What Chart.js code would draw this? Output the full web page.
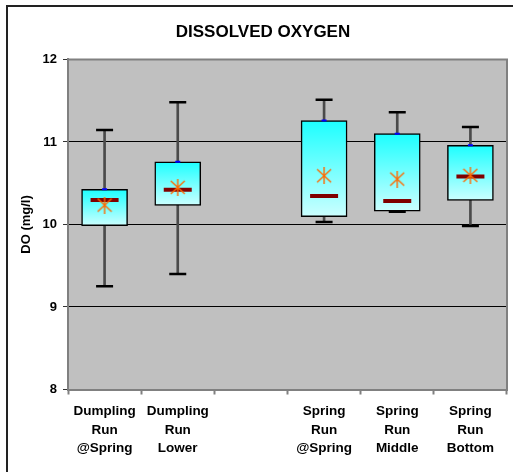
<!DOCTYPE html>
<html>
<head>
<meta charset="utf-8">
<script src="https://cdn.jsdelivr.net/npm/chart.js@4/dist/chart.umd.min.js"></script>
<style>
  html, body { margin: 0; padding: 0; background: #ffffff; }
  canvas { display: block; }
</style>
</head>
<body>
<canvas id="c" width="513" height="472"></canvas>
<script>
// ---- Data ----
const categories = [
  ["Dumpling", "Run", "@Spring"],
  ["Dumpling", "Run", "Lower"],
  "",
  ["Spring", "Run", "@Spring"],
  ["Spring", "Run", "Middle"],
  ["Spring", "Run", "Bottom"]
];
const minVals    = [9.25,  9.40,  null, 10.03,  10.155, 9.98];
const q1Vals     = [9.985, 10.23, null, 10.095, 10.16,  10.29];
const medianVals = [10.295, 10.42, null, 10.345, 10.285, 10.58];
const q3Vals     = [10.426, 10.76, null, 11.26,  11.10,  10.96];
const maxVals    = [11.146, 11.48, null, 11.51,  11.36,  11.18];
const meanVals   = [10.235, 10.45, null, 10.59,  10.55,  10.595];
const yTicks     = [8, 9, 10, 11, 12];

const FONT = "Arial, 'Liberation Sans', Helvetica, sans-serif";

// asterisk marker for the mean
const star = document.createElement('canvas');
star.width = 16; star.height = 17;
(function () {
  const g = star.getContext('2d');
  g.strokeStyle = '#FF6A00';
  g.lineWidth = 1.4;
  g.beginPath();
  g.moveTo(1, 2); g.lineTo(15, 15);
  g.moveTo(15, 2); g.lineTo(1, 15);
  g.moveTo(8, 0); g.lineTo(8, 17);
  g.stroke();
})();

const bgPlugin = {
  id: 'bg',
  beforeDraw(chart) {
    const { ctx, chartArea: a } = chart;
    ctx.save();
    ctx.fillStyle = '#C0C0C0';
    ctx.fillRect(a.left, a.top, a.right - a.left, a.bottom - a.top);
    ctx.strokeStyle = '#222';
    ctx.lineWidth = 2;
    ctx.strokeRect(7, 6, 620, 620);
    ctx.restore();
  },
  afterDatasetsDraw(chart) {
    const { ctx, chartArea: a } = chart;
    ctx.save();
    ctx.strokeStyle = '#808080';
    ctx.lineWidth = 2;
    ctx.beginPath();
    ctx.moveTo(a.left, a.top);
    ctx.lineTo(a.right, a.top);
    ctx.lineTo(a.right, a.bottom);
    ctx.stroke();
    ctx.restore();
  }
};

function boxGradient(c) {
  const chart = c.chart;
  if (!chart.chartArea || c.dataIndex == null) return '#80ffff';
  const i = c.dataIndex;
  if (q3Vals[i] == null) return 'rgba(0,0,0,0)';
  const y = chart.scales.y;
  const top = y.getPixelForValue(q3Vals[i]);
  const bot = y.getPixelForValue(q1Vals[i]);
  const g = chart.ctx.createLinearGradient(0, top, 0, bot);
  g.addColorStop(0, '#1CFFFF');
  g.addColorStop(1, '#CCFFFF');
  return g;
}

const pairs = (a, b) => a.map((v, i) => (v == null ? null : [v, b[i]]));

new Chart(document.getElementById('c'), {
  type: 'bar',
  data: {
    labels: categories,
    datasets: [
      {
        type: 'line', label: 'mean', data: meanVals, showLine: false,
        pointStyle: star, pointRadius: 8, order: 0
      },
      {
        type: 'line', label: 'median', data: medianVals, showLine: false,
        pointStyle: 'line', pointRadius: 14, borderWidth: 4,
        borderColor: '#800000', backgroundColor: '#800000', order: 1
      },
      {
        type: 'line', label: 'q3mark', data: q3Vals, showLine: false,
        pointStyle: 'line', pointRadius: 2.5, borderWidth: 2,
        borderColor: '#0000FF', order: 2
      },
      {
        type: 'line', label: 'max', data: maxVals, showLine: false,
        pointStyle: 'line', pointRadius: 8.5, borderWidth: 2.5,
        borderColor: '#000', order: 3
      },
      {
        type: 'line', label: 'min', data: minVals, showLine: false,
        pointStyle: 'line', pointRadius: 8.5, borderWidth: 2.5,
        borderColor: '#000', order: 3
      },
      {
        label: 'box', data: pairs(q1Vals, q3Vals), grouped: false,
        barThickness: 46, backgroundColor: boxGradient,
        borderColor: '#000', borderWidth: 1.5, borderSkipped: false, order: 4
      },
      {
        label: 'whisker', data: pairs(minVals, maxVals), grouped: false,
        barThickness: 2, backgroundColor: '#4a4a4a', borderWidth: 0, order: 5
      }
    ]
  },
  options: {
    responsive: false,
    animation: false,
    devicePixelRatio: 1,
    events: [],
    layout: { autoPadding: false, padding: { left: 19, right: 6, top: 22, bottom: 6 } },
    plugins: {
      legend: { display: false },
      tooltip: { enabled: false },
      title: {
        display: true, text: 'DISSOLVED OXYGEN', color: '#000',
        font: { family: FONT, size: 17, weight: 'bold', lineHeight: 1.2 },
        padding: { top: 0, bottom: 17 }
      }
    },
    scales: {
      x: {
        offset: true,
        afterFit(s) { s.paddingLeft = 0; s.paddingRight = 0; },
        grid: {
          offset: true, drawOnChartArea: false, drawTicks: true,
          tickLength: 5, tickColor: '#808080', tickWidth: 2
        },
        border: { color: '#808080', width: 2 },
        ticks: {
          color: '#000', autoSkip: false, maxRotation: 0, padding: 8,
          font: { family: FONT, size: 13.5, weight: 'bold', lineHeight: 1.37 }
        }
      },
      y: {
        min: 8, max: 12,
        afterFit(s) { s.width = 49; },
        afterBuildTicks(s) { s.ticks = yTicks.map(v => ({ value: v })); },
        grid: {
          color: (c) => (c.tick && c.tick.value === 12 ? '#808080' : '#000'),
          lineWidth: 1, tickLength: 5, tickColor: '#333'
        },
        border: { color: '#808080', width: 2 },
        ticks: {
          color: '#000', padding: 6,
          font: { family: FONT, size: 13, weight: 'bold' }
        },
        title: {
          display: true, text: 'DO (mg/l)', color: '#000',
          font: { family: FONT, size: 13, weight: 'bold', lineHeight: 1.2 },
          padding: { top: 0, bottom: 0 }
        }
      }
    }
  },
  plugins: [bgPlugin]
});
</script>
</body>
</html>
